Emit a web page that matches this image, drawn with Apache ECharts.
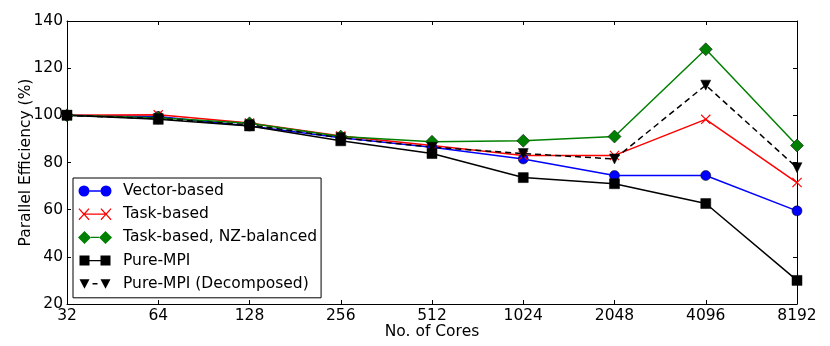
<!DOCTYPE html>
<html>
<head>
<meta charset="utf-8">
<script src="https://cdn.jsdelivr.net/npm/echarts@6/dist/echarts.min.js"></script>
<style>
  html, body { margin: 0; padding: 0; background: #fff; }
  #chart { width: 830px; height: 346px; }
</style>
</head>
<body>
<div id="chart"></div>
<script>
const cores = ['32', '64', '128', '256', '512', '1024', '2048', '4096', '8192'];

const vectorBased = [100, 99.5, 95.5, 90.5, 86.5, 81.5, 74.5, 74.5, 59.5];
const taskBased = [100, 100.2, 96.8, 91.2, 87.2, 83, 83, 98.3, 71.5];
const taskNZ = [100, 99, 96.6, 91, 88.8, 89.2, 91, 128, 87.2];
const pureMPI = [100, 98.3, 95.5, 89.2, 83.8, 73.6, 71, 62.6, 30];
const pureMPIDecomp = [100, 98.6, 96, 90.5, 86.5, 83.8, 81.5, 112.8, 77.8];

const yTicks = { min: 20, max: 140, step: 20 };

// marker shapes
const crossPath = 'path://M0,0.8L0.8,0L5,4.2L9.2,0L10,0.8L5.8,5L10,9.2L9.2,10L5,5.8L0.8,10L0,9.2L4.2,5Z';

// legend icons: marker - line - marker (34 x 13 box)
const iconCircle = 'path://M0.5,6.5a5.5,5.5 0 1,0 11,0a5.5,5.5 0 1,0 -11,0Z M22.5,6.5a5.5,5.5 0 1,0 11,0a5.5,5.5 0 1,0 -11,0Z M11.5,5.8H22.5V7.2H11.5Z M0,0H0.01V0.01H0Z M33.99,12.99H34V13H33.99Z';
const iconCross = 'path://M0.5,1.4L1.4,0.5L6,5.6L10.6,0.5L11.5,1.4L6.9,6.5L11.5,11.6L10.6,12.5L6,7.4L1.4,12.5L0.5,11.6L5.1,6.5Z M22.5,1.4L23.4,0.5L28,5.6L32.6,0.5L33.5,1.4L28.9,6.5L33.5,11.6L32.6,12.5L28,7.4L23.4,12.5L22.5,11.6L27.1,6.5Z M6.9,5.9H27.1V7.1H6.9Z M0,0H0.01V0.01H0Z M33.99,12.99H34V13H33.99Z';
const iconDiamond = 'path://M6.5,0L13,6.5L6.5,13L0,6.5Z M27.5,0L34,6.5L27.5,13L21,6.5Z M13,5.8H21V7.2H13Z';
const iconSquare = 'path://M1.5,1.5H11.5V11.5H1.5Z M22.5,1.5H32.5V11.5H22.5Z M11.5,5.8H22.5V7.2H11.5Z M0,0H0.01V0.01H0Z M33.99,12.99H34V13H33.99Z';
const iconTriangle = 'path://M1.5,2H11.5L6.5,11.5Z M22.5,2H32.5L27.5,11.5Z M14.5,5.8H19.5V7.2H14.5Z M0,0H0.01V0.01H0Z M33.99,12.99H34V13H33.99Z';

const fontFamily = 'DejaVu Sans';
const fontSize = 15.5;
let chartInstance = echarts.init(document.getElementById('chart'));

function makeSeries(name, data, color, symbol, size, extra) {
  return Object.assign({
    name: name,
    type: 'line',
    data: data,
    symbol: symbol,
    symbolSize: size,
    showAllSymbol: true,
    animation: false,
    lineStyle: { color: color, width: 1.5 },
    itemStyle: { color: color, borderColor: '#000', borderWidth: 0.5 },
    emphasis: { disabled: true }
  }, extra || {});
}

const option = {
  animation: false,
  textStyle: { fontFamily: fontFamily },
  legend: {
    orient: 'vertical',
    left: 73,
    top: 178,
    padding: [5, 4, 6, 5],
    itemWidth: 34,
    itemHeight: 13,
    itemGap: 7.2,
    backgroundColor: '#fff',
    borderColor: '#000',
    borderWidth: 1,
    borderRadius: 0,
    textStyle: { fontFamily: fontFamily, fontSize: fontSize, color: '#000', padding: [0, 0, 0, 6] },
    data: [
      { name: 'Vector-based', icon: iconCircle, itemStyle: { borderWidth: 0 } },
      { name: 'Task-based', icon: iconCross, itemStyle: { borderWidth: 0 } },
      { name: 'Task-based, NZ-balanced', icon: iconDiamond, itemStyle: { borderWidth: 0 } },
      { name: 'Pure-MPI', icon: iconSquare, itemStyle: { borderWidth: 0 } },
      { name: 'Pure-MPI (Decomposed)', icon: iconTriangle, itemStyle: { borderWidth: 0 } }
    ]
  },
  grid: { left: 67, right: 33, top: 21, bottom: 42, outerBoundsMode: 'none' },
  xAxis: [
    {
      type: 'category',
      data: cores,
      boundaryGap: false,
      name: 'No. of Cores',
      nameLocation: 'middle',
      nameMoveOverlap: false,
      nameGap: 20,
      nameTextStyle: { fontFamily: fontFamily, fontSize: fontSize, color: '#000' },
      axisLine: { lineStyle: { color: '#000', width: 1 } },
      axisTick: { inside: true, length: 4, lineStyle: { color: '#000' } },
      axisLabel: { fontFamily: fontFamily, fontSize: fontSize, color: '#000', margin: 4 },
      splitLine: { show: false }
    },
    {
      type: 'category',
      data: cores,
      boundaryGap: false,
      position: 'top',
      axisLine: { lineStyle: { color: '#000', width: 1 } },
      axisTick: { inside: true, length: 4, lineStyle: { color: '#000' } },
      axisLabel: { show: false },
      splitLine: { show: false }
    }
  ],
  yAxis: [
    {
      type: 'value',
      min: yTicks.min,
      max: yTicks.max,
      interval: yTicks.step,
      name: 'Parallel Efficiency (%)',
      nameLocation: 'middle',
      nameMoveOverlap: false,
      nameGap: 33,
      nameTextStyle: { fontFamily: fontFamily, fontSize: fontSize, color: '#000' },
      axisLine: { show: true, lineStyle: { color: '#000', width: 1 } },
      axisTick: { show: true, inside: true, length: 4, lineStyle: { color: '#000' } },
      axisLabel: { fontFamily: fontFamily, fontSize: fontSize, color: '#000', margin: 4 },
      splitLine: { show: false }
    },
    {
      type: 'value',
      min: yTicks.min,
      max: yTicks.max,
      interval: yTicks.step,
      position: 'right',
      axisLine: { show: true, lineStyle: { color: '#000', width: 1 } },
      axisTick: { show: true, inside: true, length: 4, lineStyle: { color: '#000' } },
      axisLabel: { show: false },
      splitLine: { show: false }
    }
  ],
  series: [
    makeSeries('Vector-based', vectorBased, '#0000ff', 'circle', 10),
    makeSeries('Task-based', taskBased, '#ff0000', crossPath, 10, {
      itemStyle: { color: '#ff0000', borderWidth: 0 }
    }),
    makeSeries('Task-based, NZ-balanced', taskNZ, '#008000', 'diamond', 13),
    makeSeries('Pure-MPI', pureMPI, '#000000', 'rect', 10),
    makeSeries('Pure-MPI (Decomposed)', pureMPIDecomp, '#000000', 'triangle', 10, {
      symbolRotate: 180,
      lineStyle: { color: '#000', width: 1.5, type: [6, 4] }
    })
  ]
};

chartInstance.setOption(option);
</script>
</body>
</html>
